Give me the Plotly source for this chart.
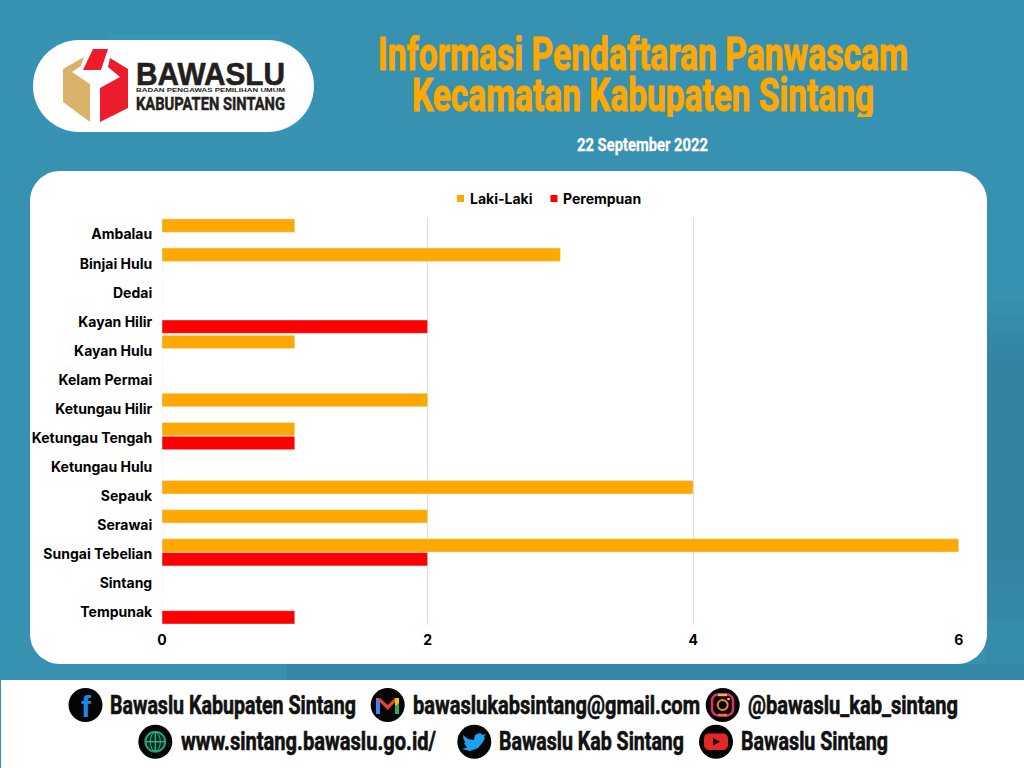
import json
import plotly.graph_objects as go

categories = ["Ambalau", "Binjai Hulu", "Dedai", "Kayan Hilir", "Kayan Hulu", "Kelam Permai",
              "Ketungau Hilir", "Ketungau Tengah", "Ketungau Hulu", "Sepauk", "Serawai",
              "Sungai Tebelian", "Sintang", "Tempunak"]
laki_laki = [1, 3, 0, 0, 1, 0, 2, 1, 0, 4, 2, 6, 0, 0]
perempuan = [0, 0, 0, 2, 0, 0, 0, 1, 0, 0, 0, 2, 0, 1]
x_ticks = [0, 2, 4, 6]
series_names = ["Laki-Laki", "Perempuan"]
title_lines = ["Informasi Pendaftaran Panwascam", "Kecamatan Kabupaten Sintang"]
date_text = "22 September 2022"

W, H = 1024, 768
BG = "#3791B1"
ORANGE = "#FFA800"
RED = "#FF0000"
HEAD = "Roboto"
LABEL = "Inter"


def px(x):
    return x / W


def py(y):
    return 1 - y / H


def path(points):
    return "M " + " L ".join(f"{px(x):.5f},{py(y):.5f}" for x, y in points) + " Z"


def rounded(x0, y0, x1, y1, r):
    k = 0.45 * r
    c = [
        ("M", x0 + r, y0), ("L", x1 - r, y0),
        ("C", x1 - k, y0, x1, y0 + k, x1, y0 + r), ("L", x1, y1 - r),
        ("C", x1, y1 - k, x1 - k, y1, x1 - r, y1), ("L", x0 + r, y1),
        ("C", x0 + k, y1, x0, y1 - k, x0, y1 - r), ("L", x0, y0 + r),
        ("C", x0, y0 + k, x0 + k, y0, x0 + r, y0),
    ]
    out = []
    for item in c:
        pts = item[1:]
        coords = " ".join(f"{px(pts[i]):.5f},{py(pts[i + 1]):.5f}" for i in range(0, len(pts), 2))
        out.append(f"{item[0]} {coords}")
    return " ".join(out) + " Z"


shapes = []
annotations = []
fits = {}


def fill_path(d, color, layer="below"):
    shapes.append(dict(type="path", xref="paper", yref="paper", path=d, fillcolor=color,
                       line=dict(width=0), layer=layer))


def stroke_path(d, color, width, layer="above"):
    shapes.append(dict(type="path", xref="paper", yref="paper", path=d, fillcolor="rgba(0,0,0,0)",
                       line=dict(width=width, color=color), layer=layer))


def rect(x0, y0, x1, y1, color, layer="below"):
    shapes.append(dict(type="rect", xref="paper", yref="paper", x0=px(x0), x1=px(x1),
                       y0=py(y1), y1=py(y0), fillcolor=color, line=dict(width=0), layer=layer))


def circle(cx, cy, r, color, layer="above", line=None):
    shapes.append(dict(type="circle", xref="paper", yref="paper", x0=px(cx - r), x1=px(cx + r),
                       y0=py(cy + r), y1=py(cy - r), fillcolor=color,
                       line=line or dict(width=0), layer=layer))


def fitted(x0, x1, y, s, size, color, font=HEAD, heavy=0.0, box_h=None):
    """Text squeezed to span x0..x1 (the reference uses a condensed display face)."""
    annotations.append(dict(xref="paper", yref="paper", x=px((x0 + x1) / 2), y=py(y), text=s,
                            showarrow=False, xanchor="center", yanchor="middle",
                            width=x1 - x0 + 4, height=box_h, borderpad=0,
                            font=dict(family=font, size=size, color=color, weight=700)))
    fits[s] = dict(w=x1 - x0, heavy=heavy, color=color)


def text(x, y, s, size, color, font=LABEL, anchor="left"):
    annotations.append(dict(xref="paper", yref="paper", x=px(x), y=py(y), text=s,
                            showarrow=False, xanchor=anchor, yanchor="middle",
                            font=dict(family=font, size=size, color=color, weight=700)))


# soft darker patches in the background
rect(287, 664, 1024, 680, "#3589A8")
for y0, y1, col in [(300, 315, "#378FAE"), (315, 330, "#368CAB"), (330, 345, "#3589A7"), (345, 360, "#3586A4"),
                    (360, 560, "#3483A1"), (560, 590, "#3586A4"), (590, 620, "#3589A7"),
                    (620, 664, "#368CAB")]:
    rect(985, y0, 1024, y1, col)

# panels
rect(30, 34, 310, 134, "#3693B4")
rect(110, 34, 280, 40, "#3897B8")
fill_path(rounded(33, 40, 314, 132, 46), "#FFFFFF")
fill_path(rounded(30, 171, 987, 664, 30), "#FFFFFF")
rect(1, 680, 1024, 768, "#FFFFFF")

# logo emblem
fill_path(path([(63, 69), (84, 57), (81, 66), (72, 72), (90, 84), (90, 122), (63, 102)]), "#D9B36A")
fill_path(path([(93, 49), (108, 49), (101, 70), (83, 70)]), "#EC1C2D")
fill_path(path([(110, 58), (128, 69), (128, 108), (100, 122), (100, 88), (120, 77), (108, 67)]), "#EC1C2D")
fitted(136, 285, 74, "BAWASLU", 31, "#231F20", font="Liberation Sans", heavy=0.6, box_h=26)
fitted(136, 285, 90.5, "BADAN PENGAWAS PEMILIHAN UMUM", 6, "#231F20", font="Liberation Sans", box_h=8)
fitted(136, 285, 103, "KABUPATEN SINTANG", 19, "#231F20", heavy=0.5, box_h=17)

# headings
fitted(378, 908, 54, title_lines[0], 46, ORANGE, heavy=1.0, box_h=38)
fitted(412, 874, 95, title_lines[1], 46, ORANGE, heavy=1.0, box_h=44)
fitted(577, 708, 144, date_text, 19, "#FFFFFF", heavy=0.3)

# legend
rect(457, 195, 464, 202, ORANGE, layer="above")
rect(550.5, 195, 557.5, 202, RED, layer="above")
text(468, 199, series_names[0], 14, "#000000")
text(561, 199, series_names[1], 14, "#000000")

# footer icons
for cx, cy in [(85.5, 705), (387.7, 705), (722.7, 705), (155.3, 741.7), (474.3, 741.7), (716, 741.7)]:
    circle(cx, cy, 17, "#050505")
text(86, 706, "f", 30, "#1E88E5", font="Liberation Sans", anchor="center")
# mail glyph
fill_path(path([(376, 698), (380, 698), (380, 714), (376, 714)]), "#4285F4", layer="above")
fill_path(path([(395, 698), (399, 698), (399, 714), (395, 714)]), "#34A853", layer="above")
fill_path(path([(376, 698), (380, 698), (387.7, 705), (395, 698), (399, 698), (387.7, 710)]), "#EA4335", layer="above")
fill_path(path([(395, 698), (399, 698), (399, 703), (395, 706)]), "#FBBC05", layer="above")
# camera glyph
stroke_path(rounded(712, 694.5, 733, 715.5, 6), "#E1306C", 2.5)
stroke_path(path([(718, 715), (727, 715)]), "#F77737", 2.5)
stroke_path(path([(727, 695), (718, 695)]), "#FCAF45", 2.5)
circle(722.7, 705, 5, "#050505", line=dict(color="#FD7F2C", width=2))
circle(728.5, 699, 1.3, "#FEDA75")
# globe glyph
circle(155.3, 741.7, 11, "#2A8F6C")
circle(155.3, 741.7, 9.5, "#0A2C22", line=dict(color="#2FB58A", width=1))
shapes.append(dict(type="circle", xref="paper", yref="paper", x0=px(150.3), x1=px(160.3), y0=py(751.2), y1=py(732.2),
                   fillcolor="rgba(0,0,0,0)", line=dict(color="#2FB58A", width=1), layer="above"))
stroke_path(path([(146, 741.7), (165, 741.7)]), "#2FB58A", 1)
stroke_path(path([(155.3, 732.5), (155.3, 751)]), "#2FB58A", 1)
# bird glyph
fill_path(path([(463, 735), (468, 739), (474, 740), (475, 735), (480, 733), (483, 735), (486, 734),
                (484, 737), (485, 738), (483, 742), (478, 748), (470, 751), (462, 749), (467, 747.5),
                (464, 743), (465.5, 742.5), (463.5, 739)]), "#1DA1F2", layer="above")
# play glyph
fill_path(rounded(704, 733.5, 728, 750, 5), "#E52629", layer="above")
fill_path(path([(713, 738), (720, 741.7), (713, 745.5)]), "#111111", layer="above")

# footer text
FOOT = 25
INK = "#111111"
fitted(110, 356, 705, "Bawaslu Kabupaten Sintang", FOOT, INK, heavy=0.6)
fitted(413, 700, 705, "bawaslukabsintang@gmail.com", FOOT, INK, heavy=0.6)
fitted(748, 958, 705, "@bawaslu_kab_sintang", FOOT, INK, heavy=0.6)
fitted(181, 436, 741, "www.sintang.bawaslu.go.id/", FOOT, INK, heavy=0.6)
fitted(499, 684, 741, "Bawaslu Kab Sintang", FOOT, INK, heavy=0.6)
fitted(741, 888, 741, "Bawaslu Sintang", FOOT, INK, heavy=0.6)

fig = go.Figure()
fig.add_bar(y=categories, x=laki_laki, name=series_names[0], orientation="h", marker_color=ORANGE, showlegend=False)
fig.add_bar(y=categories, x=perempuan, name=series_names[1], orientation="h", marker_color=RED, showlegend=False)

fig.update_layout(
    width=W, height=H, margin=dict(l=0, r=0, t=0, b=0, autoexpand=False),
    paper_bgcolor=BG, plot_bgcolor="rgba(0,0,0,0)",
    barmode="group", bargap=0.05, bargroupgap=0.03, showlegend=False,
    shapes=shapes, annotations=annotations,
    xaxis=dict(domain=[px(162), px(958.8)], range=[0, 6], tickvals=x_ticks, showgrid=True,
               gridcolor="#DDDDDD", gridwidth=1, zeroline=False, showline=False, automargin=False,
               anchor="y", ticks="outside", ticklen=2, tickcolor="rgba(0,0,0,0)",
               tickfont=dict(family=LABEL, size=14, color="#000000", weight=700)),
    yaxis=dict(domain=[py(625), py(218)], autorange="reversed", showgrid=False, zeroline=False,
               showline=False, automargin=False, ticks="outside", ticklen=6, tickcolor="rgba(0,0,0,0)",
               ticklabelshift=-2,
               tickfont=dict(family=LABEL, size=14, color="#000000", weight=700)),
    font=dict(family=LABEL),
)

post = """
document.body.style.margin = '0';
var fits = %s;
document.querySelectorAll('text.annotation-text').forEach(function (t) {
  var f = fits[t.textContent];
  if (!f) return;
  t.setAttribute('textLength', f.w);
  t.setAttribute('lengthAdjust', 'spacingAndGlyphs');
  if (f.heavy) { t.style.stroke = f.color; t.style.strokeWidth = f.heavy + 'px'; }
});
""" % json.dumps(fits)
fig.write_html("out.html", post_script=post, config={"displayModeBar": False})
